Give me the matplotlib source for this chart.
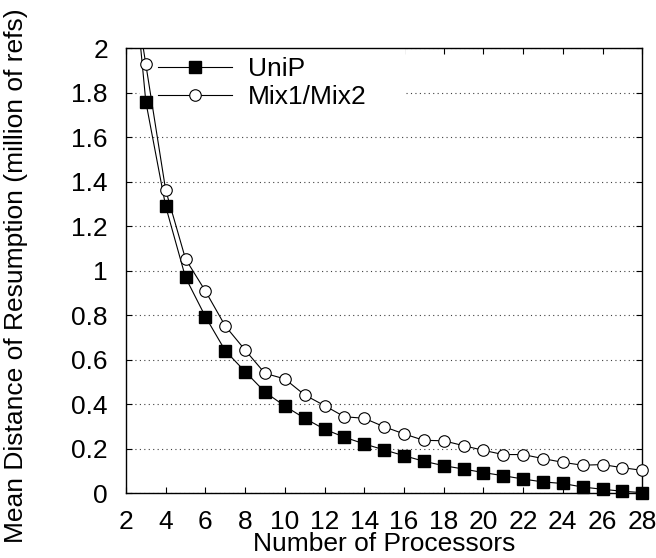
import matplotlib
matplotlib.use("Agg")
import matplotlib.pyplot as plt
from matplotlib.patches import Rectangle
from matplotlib.ticker import FormatStrFormatter

procs = [2, 3, 4, 5, 6, 7, 8, 9, 10, 11, 12, 13, 14, 15, 16, 17, 18, 19, 20,
         21, 22, 23, 24, 25, 26, 27, 28]
unip = [2.7, 1.76, 1.29, 0.97, 0.794, 0.641, 0.547, 0.455, 0.392, 0.337, 0.288,
        0.252, 0.222, 0.195, 0.169, 0.144, 0.124, 0.109, 0.093, 0.079, 0.064,
        0.051, 0.044, 0.028, 0.018, 0.009, 0.003]
mix = [2.5, 1.928, 1.363, 1.053, 0.909, 0.752, 0.644, 0.539, 0.514, 0.442, 0.394,
       0.344, 0.337, 0.299, 0.267, 0.238, 0.236, 0.214, 0.193, 0.174, 0.174,
       0.156, 0.139, 0.126, 0.129, 0.115, 0.103]
labels = ["UniP", "Mix1/Mix2"]

plt.rcParams['font.family'] = ['Liberation Sans', 'DejaVu Sans']
fs = 19

fig = plt.figure(figsize=(6.56, 5.58), dpi=100)
ax = fig.add_axes([0.192, 0.116, 0.787, 0.7975])

# white box behind the key, hides the grid like gnuplot does
ax.add_patch(Rectangle((0.027, 0.866), 0.514, 0.134, transform=ax.transAxes,
                       facecolor='white', edgecolor='none', zorder=1))

# first segment goes off the top, keep it clipped
ax.plot(procs[:2], unip[:2], color='black', lw=0.8, zorder=2)
ax.plot(procs[:2], mix[:2], color='black', lw=0.8, zorder=2)
ax.plot(procs[1:], unip[1:], color='black', lw=0.8, marker='s', ms=8,
        mfc='black', mec='black', label=labels[0], clip_on=False, zorder=3)
ax.plot(procs[1:], mix[1:], color='black', lw=0.8, marker='o', ms=8.3,
        mfc='white', mec='black', mew=0.8, label=labels[1], clip_on=False, zorder=3)

ax.set_xlim(2, 28)
ax.set_ylim(0, 2)
ax.set_xticks(range(2, 29, 2))
ax.set_yticks([i * 0.2 for i in range(11)])
ax.yaxis.set_major_formatter(FormatStrFormatter('%g'))
ax.tick_params(direction='in', length=4.5, width=0.8, top=True, right=True,
               labelsize=fs)
ax.tick_params(axis='y', pad=13)
ax.tick_params(axis='x', pad=12)
ax.set_axisbelow(True)
ax.yaxis.grid(True, linestyle=(0, (1, 3)), linewidth=0.8, color='0.25')
for s in ax.spines.values():
    s.set_linewidth(1.0)

ax.set_xlabel('Number of Processors', fontsize=fs)
ax.xaxis.set_label_coords(0.5, -0.088)
ax.set_ylabel('Mean Distance of Resumption (million of refs)', fontsize=fs)
ax.yaxis.set_label_coords(-0.19, 0.49)

ax.legend(loc='upper left', bbox_to_anchor=(0.062, 0.98), borderpad=0,
          frameon=False, numpoints=1, handlelength=2.8, handletextpad=0.62,
          labelspacing=0.15, fontsize=fs, borderaxespad=0)

fig.savefig('out.png', dpi=100)
